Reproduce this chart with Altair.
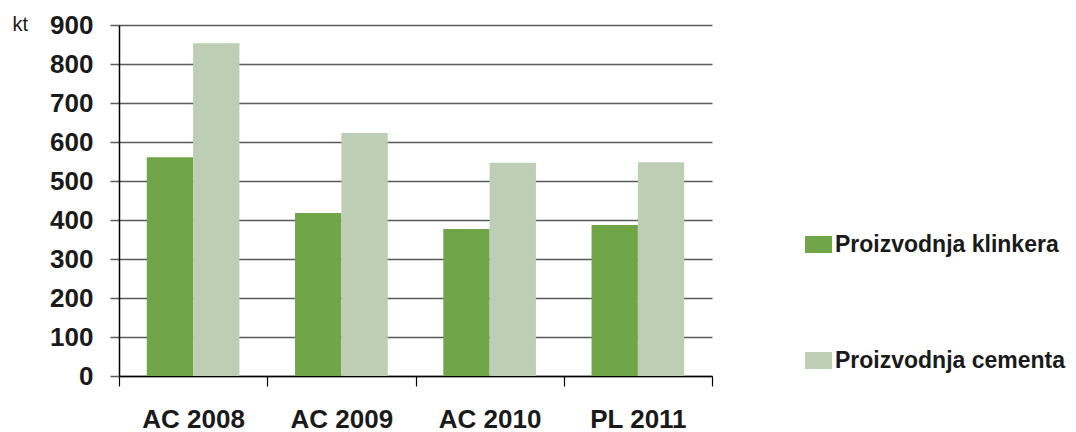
import altair as alt
import pandas as pd

categories = ["AC 2008", "AC 2009", "AC 2010", "PL 2011"]
series = ["Proizvodnja klinkera", "Proizvodnja cementa"]
klinker = [561, 418, 377, 387]
cement = [853, 623, 547, 548]
colors = ["#70A548", "#BDCEB4"]

rows = []
for c, k, m in zip(categories, klinker, cement):
    rows.append({"cat": c, "serija": series[0], "kt": k})
    rows.append({"cat": c, "serija": series[1], "kt": m})
df = pd.DataFrame(rows)

FONT = "Liberation Sans"

chart = alt.Chart(df).mark_bar().encode(
    x=alt.X("cat:N", sort=categories,
            scale=alt.Scale(paddingInner=0, paddingOuter=0),
            axis=alt.Axis(title=None, labelAngle=0, tickBand="extent",
                          tickSize=10, tickColor="#000", domainColor="#000",
                          domainWidth=1.5, tickWidth=1.2,
                          labelFont=FONT, labelFontSize=26, labelFontWeight="bold",
                          labelColor="#1a1a1a", labelPadding=20)),
    xOffset=alt.XOffset("serija:N", sort=series,
                        scale=alt.Scale(paddingOuter=0.6, paddingInner=0)),
    y=alt.Y("kt:Q", scale=alt.Scale(domain=[0, 900], nice=False),
            axis=alt.Axis(values=list(range(0, 901, 100)), title="kt",
                          titleAngle=0, titleAlign="left", titleBaseline="alphabetic",
                          titleX=-107, titleY=5, titleFont=FONT, titleFontSize=20,
                          titleFontWeight="normal", titleColor="#1a1a1a",
                          grid=True, gridColor="#5a5a5a", gridWidth=1.5,
                          tickSize=9, tickColor="#5a5a5a", tickWidth=1.5,
                          domainColor="#000", domainWidth=1.5,
                          labelFont=FONT, labelFontSize=26, labelFontWeight="bold",
                          labelColor="#1a1a1a", labelPadding=17)),
    color=alt.Color("serija:N", sort=series,
                    scale=alt.Scale(domain=series, range=colors),
                    legend=alt.Legend(title=None, orient="none", legendX=686, legendY=206,
                                      symbolType="M-1,-0.63H1V0.63H-1Z", symbolSize=729,
                                      symbolStrokeWidth=0, symbolOpacity=1,
                                      labelFont=FONT, labelFontSize=23, labelFontWeight="bold",
                                      labelColor="#1a1a1a", labelOffset=3,
                                      rowPadding=90, labelLimit=400)),
).properties(
    width=593, height=351,
    autosize=alt.AutoSizeParams(type="none"),
    padding={"left": 111, "top": 17, "right": 356, "bottom": 62},
).configure_view(stroke=None).configure_axis(gridCap="butt")

chart.save("out.html", embed_options={"renderer": "svg", "actions": False})
